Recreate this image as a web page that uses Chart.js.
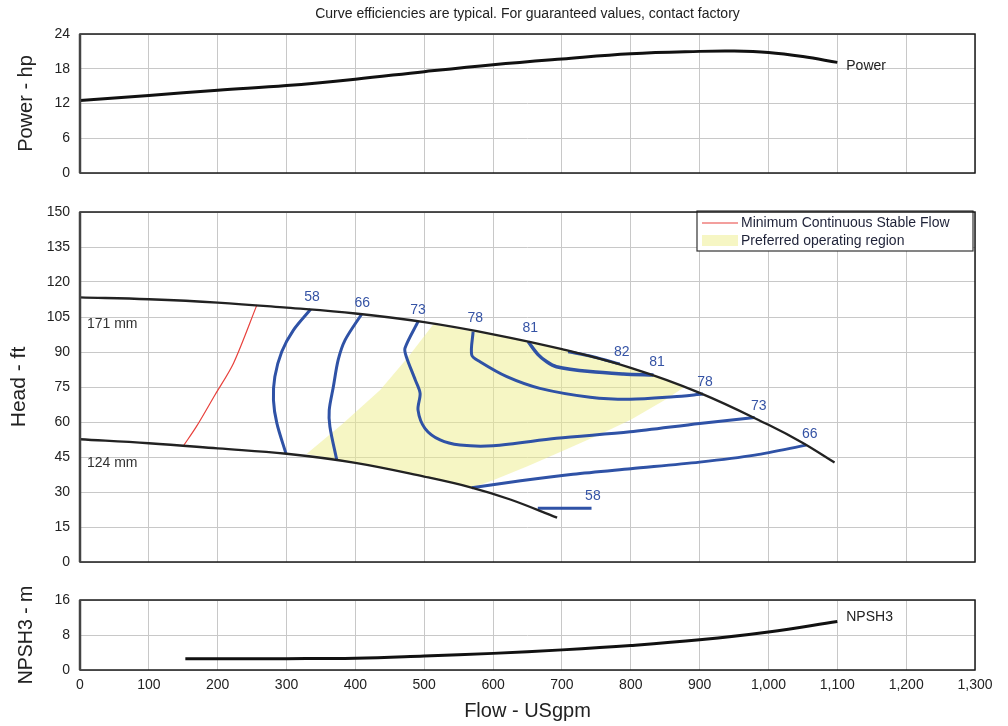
<!DOCTYPE html>
<html>
<head>
<meta charset="utf-8">
<title>Pump curve</title>
<script src="https://cdn.jsdelivr.net/npm/chart.js@4.4.0/dist/chart.umd.min.js"></script>
<style>
    body { margin: 0; background: #fff; }
    .panel { position: absolute; left: 0; width: 1008px; }
</style>
</head>
<body>
<div class="panel" style="top:0;height:180px"><canvas id="powerChart"></canvas></div>
<div class="panel" style="top:180px;height:400px"><canvas id="headChart"></canvas></div>
<div class="panel" style="top:580px;height:146px"><canvas id="npshChart"></canvas></div>

<script>
// Flow axis shared by all three panels (USgpm)
const flowMin = 0;
const flowMax = 1300;
const flowStep = 100;

// Power panel (hp)
const powerRange = [0, 24, 6];
const powerCurve = [[0, 12.5], [100, 13.4], [200, 14.3], [300, 15.1], [400, 16.2], [500, 17.5], [600, 18.7],
    [700, 19.7], [800, 20.6], [900, 21.0], [950, 21.05], [1000, 20.8], [1050, 20.1], [1100, 19.1]];

// Head panel (ft)
const headRange = [0, 150, 15];
const impeller171 = [[0, 113.4], [100, 112.6], [200, 111.2], [300, 109], [400, 106.5], [500, 102.8], [600, 97.6],
    [700, 91.2], [800, 83.2], [900, 72.5], [1000, 58.8], [1050, 51], [1096, 42.6]];
const impeller124 = [[0, 52.6], [100, 50.9], [200, 48.7], [300, 46.4], [400, 42.5], [500, 36.6], [570, 31.8],
    [625, 26.8], [693, 19]];
const minStableFlow = [[150, 49.7], [169, 58], [196, 71.6], [223, 85.2], [257, 110.2]];
const preferredRegion = [[329, 46.3], [382, 59.4], [436, 73.7], [477, 88], [513, 101.8], [571, 98.8], [651, 94.4],
    [700, 91.2], [750, 87.4], [800, 83.2], [833, 80.1], [878, 75], [850, 69.5], [800, 61], [750, 54], [700, 47.5],
    [650, 41], [600, 35], [569, 31.8], [500, 36.6], [400, 42.5], [329, 46.3]];

// Efficiency contours (%)
const eff58Left = [[335, 108.3], [310, 99.4], [293, 90.1], [283, 79.4], [281, 69.4], [286, 59.4], [299, 46.6]];
const eff66Left = [[409, 106.2], [385, 95.1], [375, 86.6], [368, 75.1], [362, 65.1], [363, 58], [373, 43.7]];
const eff73 = [[491, 103], [472, 91.6], [474, 88], [487, 78], [494, 72.3], [491, 65.1], [501, 57.3], [523, 52.3],
    [552, 50.1], [600, 49.8], [692, 53], [799, 55.8], [900, 59.4], [980, 61.9]];
const eff78 = [[571, 98.7], [569, 88.7], [581, 85.8], [620, 79.4], [668, 74.4], [741, 70.6], [799, 69.7],
    [862, 70.8], [905, 72]];
const eff81 = [[651, 94.4], [665, 89], [678, 85.8], [692, 83.7], [741, 81.6], [789, 80.6], [833, 80.1]];
const eff82 = [[709, 90.1], [745, 88], [784, 84.9]];
const eff66Right = [[569, 31.8], [640, 34.8], [716, 37.6], [800, 40], [900, 42.8], [980, 45.8], [1055, 50.1]];
const eff58Right = [[665, 23], [743, 23]];

const effLabels = [['58', 337, 113.6], ['66', 410, 111], ['73', 491, 108], ['78', 574, 104.6], ['81', 654, 100.3],
    ['82', 787, 90], ['81', 838, 85.7], ['78', 908, 77.1], ['73', 986, 66.9], ['66', 1060, 54.9], ['58', 745, 28.4]];
const impellerLabels = [['171 mm', 10, 102], ['124 mm', 10, 42.3]];

// NPSH panel (m)
const npshRange = [0, 16, 8];
const npshCurve = [[153, 2.6], [200, 2.6], [300, 2.6], [400, 2.7], [500, 3.2], [600, 3.8], [700, 4.6],
    [800, 5.6], [900, 6.9], [1000, 8.7], [1100, 11.1]];

const FONT = '"Liberation Sans", Arial, sans-serif';
const inkColor = '#222';
const gridColor = '#c8c8c8';
const effBlue = '#2f52a6';

Chart.defaults.font.family = FONT;
Chart.defaults.color = inkColor;

function pts(arr) {
    return arr.map(p => ({ x: p[0], y: p[1] }));
}

function curve(label, data, color, width, tension) {
    return {
        label: label,
        data: pts(data),
        borderColor: color,
        borderWidth: width,
        pointRadius: 0,
        tension: tension,
        fill: false
    };
}

// black frame round each plot area
const framePlugin = {
    id: 'frame',
    afterDraw(chart) {
        const a = chart.chartArea;
        const ctx = chart.ctx;
        ctx.save();
        ctx.strokeStyle = '#1a1a1a';
        ctx.lineWidth = 1.5;
        ctx.strokeRect(a.left, a.top, a.right - a.left, a.bottom - a.top);
        ctx.strokeStyle = '#444';
        ctx.lineWidth = 2.5;
        ctx.beginPath();
        ctx.moveTo(a.left, a.top);
        ctx.lineTo(a.left, a.bottom);
        ctx.stroke();
        ctx.restore();
    }
};

// text labels placed in data coordinates
const curveTextPlugin = {
    id: 'curveText',
    afterDatasetsDraw(chart, args, opts) {
        const ctx = chart.ctx;
        const xs = chart.scales.x;
        const ys = chart.scales.y;
        ctx.save();
        (opts.groups || []).forEach(g => {
            ctx.font = '14px ' + FONT;
            ctx.fillStyle = g.color;
            ctx.textAlign = g.align;
            ctx.textBaseline = 'middle';
            g.items.forEach(([t, x, y]) => ctx.fillText(t, xs.getPixelForValue(x), ys.getPixelForValue(y)));
        });
        ctx.restore();
    }
};

// boxed legend in the top right corner of the head panel
const boxLegendPlugin = {
    id: 'boxLegend',
    afterDatasetsDraw(chart) {
        const a = chart.chartArea;
        const ctx = chart.ctx;
        const red = chart.data.datasets.find(d => d.label === 'Minimum Continuous Stable Flow');
        const region = chart.data.datasets.find(d => d.label === 'Preferred operating region');
        const left = a.right - 278, top = a.top - 1, w = 276, h = 40;
        ctx.save();
        ctx.fillStyle = '#fff';
        ctx.fillRect(left, top, w, h);
        ctx.strokeStyle = '#333';
        ctx.lineWidth = 1.2;
        ctx.strokeRect(left, top, w, h);

        ctx.strokeStyle = red.borderColor;
        ctx.lineWidth = 1.2;
        ctx.beginPath();
        ctx.moveTo(left + 5, top + 12);
        ctx.lineTo(left + 41, top + 12);
        ctx.stroke();
        ctx.fillStyle = 'rgb(246,246,196)';
        ctx.fillRect(left + 5, top + 24, 36, 11);

        ctx.fillStyle = '#1e2238';
        ctx.font = '14px ' + FONT;
        ctx.textAlign = 'left';
        ctx.textBaseline = 'middle';
        ctx.fillText(red.label, left + 44, top + 12);
        ctx.fillText(region.label, left + 44, top + 30);
        ctx.restore();
    }
};

function flowAxis(height, withLabels) {
    return {
        type: 'linear',
        min: flowMin,
        max: flowMax,
        ticks: { stepSize: flowStep, display: withLabels, padding: 7, color: inkColor, font: { size: 14 } },
        grid: { color: gridColor, drawTicks: false },
        border: { display: false },
        title: {
            display: withLabels,
            text: 'Flow - USgpm',
            color: inkColor,
            font: { size: 20 },
            padding: { top: 0, bottom: 3 }
        },
        afterFit(s) { s.height = height; }
    };
}

function valueAxis(range, title, titleSize, titlePad) {
    return {
        type: 'linear',
        min: range[0],
        max: range[1],
        ticks: { stepSize: range[2], padding: 10, color: inkColor, font: { size: 14 } },
        grid: { color: gridColor, drawTicks: false },
        border: { display: false },
        title: {
            display: true,
            text: title,
            color: inkColor,
            font: { size: titleSize },
            padding: { top: titlePad, bottom: 0 }
        },
        afterFit(s) {
            s.width = 80;
            s.paddingTop = 0;
            s.paddingBottom = 0;
        }
    };
}

document.addEventListener('DOMContentLoaded', function () {
    new Chart(document.getElementById('powerChart'), {
        type: 'line',
        data: { datasets: [curve('Power', powerCurve, '#111', 3, 0.4)] },
        options: {
            responsive: true,
            maintainAspectRatio: false,
            animation: false,
            layout: { padding: { top: 0, right: 33, left: 0, bottom: 0 } },
            scales: { x: flowAxis(7, false), y: valueAxis(powerRange, 'Power - hp', 20, 14) },
            plugins: {
                legend: { display: false },
                tooltip: { enabled: false },
                title: {
                    display: true,
                    fullSize: false,
                    text: 'Curve efficiencies are typical. For guaranteed values, contact factory',
                    color: inkColor,
                    font: { size: 14, weight: 'normal' },
                    padding: { top: 6, bottom: 11.2 }
                },
                curveText: { groups: [{ color: inkColor, align: 'left', items: [['Power', 1113, 18.4]] }] }
            }
        },
        plugins: [framePlugin, curveTextPlugin]
    });

    new Chart(document.getElementById('headChart'), {
        type: 'line',
        data: {
            datasets: [
                Object.assign(curve('Preferred operating region', preferredRegion, 'rgba(0,0,0,0)', 0, 0), {
                    fill: 'shape',
                    backgroundColor: 'rgba(237,237,137,0.5)',
                    order: 10
                }),
                curve('171 mm', impeller171, '#222', 2.3, 0.4),
                curve('124 mm', impeller124, '#222', 2.3, 0.4),
                curve('Minimum Continuous Stable Flow', minStableFlow, '#e8413c', 1.2, 0.3),
                curve('58', eff58Left, effBlue, 3, 0.3),
                curve('66', eff66Left, effBlue, 3, 0.3),
                curve('73', eff73, effBlue, 3, 0.3),
                curve('78', eff78, effBlue, 3, 0.3),
                curve('81', eff81, effBlue, 3.5, 0.3),
                curve('82', eff82, effBlue, 3, 0.3),
                curve('66 right', eff66Right, effBlue, 3, 0.3),
                curve('58 right', eff58Right, effBlue, 3, 0)
            ]
        },
        options: {
            responsive: true,
            maintainAspectRatio: false,
            animation: false,
            layout: { padding: { top: 32, right: 33, left: 0, bottom: 0 } },
            scales: { x: flowAxis(18, false), y: valueAxis(headRange, 'Head - ft', 21, 6.5) },
            plugins: {
                legend: { display: false },
                tooltip: { enabled: false },
                curveText: {
                    groups: [
                        { color: '#3553a5', align: 'center', items: effLabels },
                        { color: '#333', align: 'left', items: impellerLabels }
                    ]
                }
            }
        },
        plugins: [framePlugin, curveTextPlugin, boxLegendPlugin]
    });

    new Chart(document.getElementById('npshChart'), {
        type: 'line',
        data: { datasets: [curve('NPSH3', npshCurve, '#111', 3, 0.4)] },
        options: {
            responsive: true,
            maintainAspectRatio: false,
            animation: false,
            layout: { padding: { top: 20, right: 33, left: 0, bottom: 0 } },
            scales: { x: flowAxis(56, true), y: valueAxis(npshRange, 'NPSH3 - m', 19.5, 14.5) },
            plugins: {
                legend: { display: false },
                tooltip: { enabled: false },
                curveText: { groups: [{ color: inkColor, align: 'left', items: [['NPSH3', 1113, 12]] }] }
            }
        },
        plugins: [framePlugin, curveTextPlugin]
    });
});
</script>
</body>
</html>
